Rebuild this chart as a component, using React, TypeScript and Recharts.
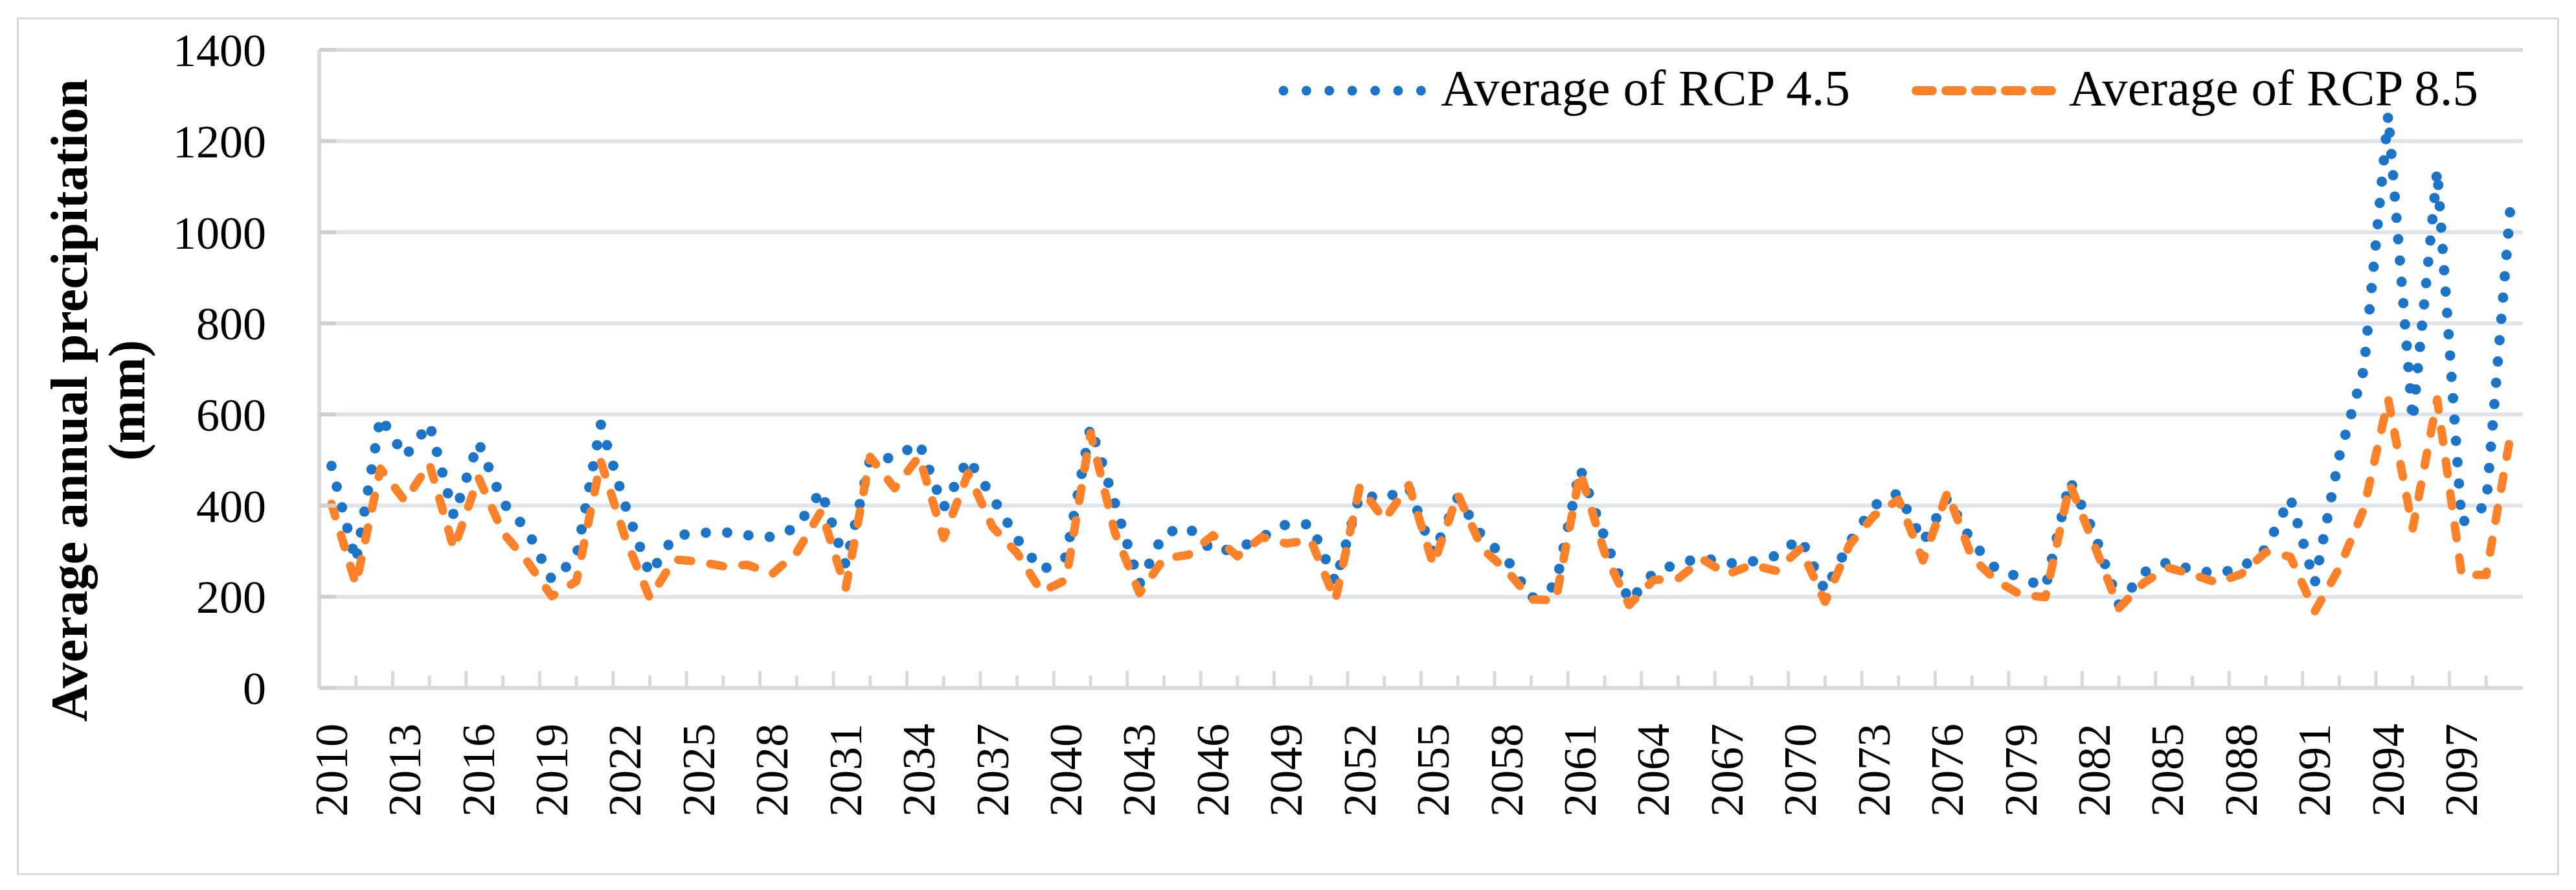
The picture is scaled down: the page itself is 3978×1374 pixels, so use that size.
import { CartesianGrid, Legend, Line, LineChart, ReferenceLine, XAxis, YAxis } from "recharts"

const YEARS = [
    2010, 2011, 2012, 2013, 2014, 2015, 2016, 2017, 2018, 2019,
    2020, 2021, 2022, 2023, 2024, 2025, 2026, 2027, 2028, 2029,
    2030, 2031, 2032, 2033, 2034, 2035, 2036, 2037, 2038, 2039,
    2040, 2041, 2042, 2043, 2044, 2045, 2046, 2047, 2048, 2049,
    2050, 2051, 2052, 2053, 2054, 2055, 2056, 2057, 2058, 2059,
    2060, 2061, 2062, 2063, 2064, 2065, 2066, 2067, 2068, 2069,
    2070, 2071, 2072, 2073, 2074, 2075, 2076, 2077, 2078, 2079,
    2080, 2081, 2082, 2083, 2084, 2085, 2086, 2087, 2088, 2089,
    2090, 2091, 2092, 2093, 2094, 2095, 2096, 2097, 2098, 2099,
]

const RCP45 = [
    487, 277, 595, 507, 580, 377, 539, 407, 346, 237,
    286, 578, 400, 249, 334, 340, 342, 335, 331, 352,
    433, 270, 502, 505, 538, 395, 503, 418, 327, 258,
    287, 573, 405, 228, 340, 352, 300, 305, 331, 359,
    359, 232, 424, 415, 440, 294, 418, 332, 283, 197,
    225, 481, 329, 189, 253, 273, 286, 273, 277, 290,
    329, 213, 319, 400, 428, 320, 417, 320, 260, 242,
    220, 455, 339, 183, 253, 276, 259, 251, 263, 305,
    417, 230, 508, 698, 1258, 586, 1136, 362, 402, 1062,
]

const RCP85 = [
    404, 227, 481, 410, 492, 305, 462, 341, 277, 201,
    234, 497, 329, 197, 282, 277, 267, 270, 250, 297,
    388, 218, 507, 438, 508, 329, 471, 353, 296, 211,
    237, 559, 340, 208, 284, 292, 335, 289, 331, 317,
    324, 192, 442, 369, 445, 270, 425, 305, 258, 194,
    192, 474, 296, 182, 237, 240, 282, 249, 270, 257,
    306, 189, 314, 378, 413, 280, 429, 286, 235, 204,
    199, 447, 313, 175, 230, 264, 249, 231, 250, 298,
    288, 168, 263, 392, 633, 350, 633, 248, 248, 556,
]

const Y_TICKS = [0, 200, 400, 600, 800, 1000, 1200, 1400]
const SERIES_NAMES = ["Average of RCP 4.5", "Average of RCP 8.5"]
const Y_TITLE = ["Average annual precipitation", "(mm)"]

const W = 3978
const H = 1374
const PLOT = { left: 493, top: 77, right: 3896, bottom: 1062 }
const BAND = (PLOT.right - PLOT.left) / YEARS.length
const FONT = '"Liberation Serif", "Times New Roman", serif'
const BLUE = "#1b74c8"
const ORANGE = "#fd8128"
const GRID = "#e0e4e9"
const AXIS = "#d9d9d9"

const data = YEARS.map((year, i) => ({ year: String(year), rcp45: RCP45[i], rcp85: RCP85[i] }))

// year labels every 3rd category, Excel-style inside tick marks
function XTick(props: any) {
    const { x, y, payload } = props
    const ty = y + 55
    return (
        <g>
            <line x1={x - BAND / 2} x2={x - BAND / 2} y1={y} y2={y - 26} stroke={AXIS} strokeWidth={5} />
            <line x1={x + BAND} x2={x + BAND} y1={y} y2={y - 19} stroke={AXIS} strokeWidth={5} />
            <text
                x={x}
                y={ty}
                dy="0.33em"
                textAnchor="end"
                transform={`rotate(-90, ${x}, ${ty})`}
                fontSize={72}
                fontFamily={FONT}
                fill="#000"
            >
                {payload.value}
            </text>
        </g>
    )
}

function YTick(props: any) {
    const { x, y, payload } = props
    return (
        <g>
            <line x1={PLOT.left} x2={PLOT.left + 26} y1={y} y2={y} stroke="#d2cfcb" strokeWidth={6} />
            <text x={x} y={y} dy="0.35em" textAnchor="end" fontSize={72} fontFamily={FONT} fill="#000">
                {payload.value}
            </text>
        </g>
    )
}

function YTitle() {
    const cy = 618
    return (
        <g fontFamily={FONT} fontWeight="bold" fontSize={80} fill="#000">
            <text x={134} y={cy} textAnchor="middle" transform={`rotate(-90, 134, ${cy})`}>{Y_TITLE[0]}</text>
            <text x={223} y={cy} textAnchor="middle" transform={`rotate(-90, 223, ${cy})`}>{Y_TITLE[1]}</text>
        </g>
    )
}

function LegendBox() {
    return (
        <svg width={1900} height={110} style={{ overflow: "visible" }}>
            <line x1={22} x2={235} y1={50} y2={50} stroke={BLUE} strokeWidth={15} strokeDasharray="0 35.4" strokeLinecap="round" />
            <text x={265} y={72} fontSize={79} fontFamily={FONT} fill="#000">{SERIES_NAMES[0]}</text>
            <line x1={999} x2={1209} y1={50} y2={50} stroke={ORANGE} strokeWidth={14} strokeDasharray="25 21" strokeLinecap="round" />
            <text x={1235} y={72} fontSize={79} fontFamily={FONT} fill="#000">{SERIES_NAMES[1]}</text>
        </svg>
    )
}

export default function App() {
    return (
        <div style={{ position: "absolute", left: 0, top: 0, width: W, height: H, background: "#fff", fontFamily: FONT }}>
            <div
                style={{
                    position: "absolute",
                    left: 26,
                    top: 27,
                    width: 3926,
                    height: 1324,
                    border: `3px solid ${AXIS}`,
                    boxSizing: "border-box",
                }}
            />
            <LineChart
                width={W}
                height={H}
                data={data}
                margin={{ top: PLOT.top, right: W - PLOT.right, left: PLOT.left - 400, bottom: H - PLOT.bottom - 250 }}
            >
                <CartesianGrid vertical={false} stroke={GRID} strokeWidth={6} />
                <XAxis
                    dataKey="year"
                    height={250}
                    interval={2}
                    padding={{ left: BAND / 2, right: BAND / 2 }}
                    tickLine={false}
                    tickSize={0}
                    tickMargin={0}
                    axisLine={{ stroke: AXIS, strokeWidth: 6 }}
                    tick={<XTick />}
                />
                <YAxis
                    width={400}
                    domain={[0, 1400]}
                    ticks={Y_TICKS}
                    tickLine={false}
                    tickSize={0}
                    tickMargin={82}
                    axisLine={{ stroke: AXIS, strokeWidth: 6 }}
                    tick={<YTick />}
                    label={{ content: () => <YTitle /> }}
                />
                <YAxis
                    yAxisId="frame"
                    orientation="right"
                    width={0}
                    domain={[0, 1400]}
                    tick={false}
                    tickLine={false}
                    axisLine={{ stroke: AXIS, strokeWidth: 6 }}
                />
                <ReferenceLine y={1400} stroke={AXIS} strokeWidth={6} />
                <Legend
                    layout="horizontal"
                    verticalAlign="middle"
                    align="center"
                    content={() => <LegendBox />}
                    wrapperStyle={{ left: 1960, top: 90, width: 1900, height: 110 }}
                />
                <Line
                    type="linear"
                    dataKey="rcp45"
                    name={SERIES_NAMES[0]}
                    stroke={BLUE}
                    strokeWidth={16}
                    strokeDasharray="0 33"
                    strokeLinecap="round"
                    strokeLinejoin="round"
                    dot={false}
                    activeDot={false}
                    isAnimationActive={false}
                />
                <Line
                    type="linear"
                    dataKey="rcp85"
                    name={SERIES_NAMES[1]}
                    stroke={ORANGE}
                    strokeWidth={13}
                    strokeDasharray="20 30"
                    strokeLinecap="round"
                    strokeLinejoin="round"
                    dot={false}
                    activeDot={false}
                    isAnimationActive={false}
                />
            </LineChart>
        </div>
    )
}
